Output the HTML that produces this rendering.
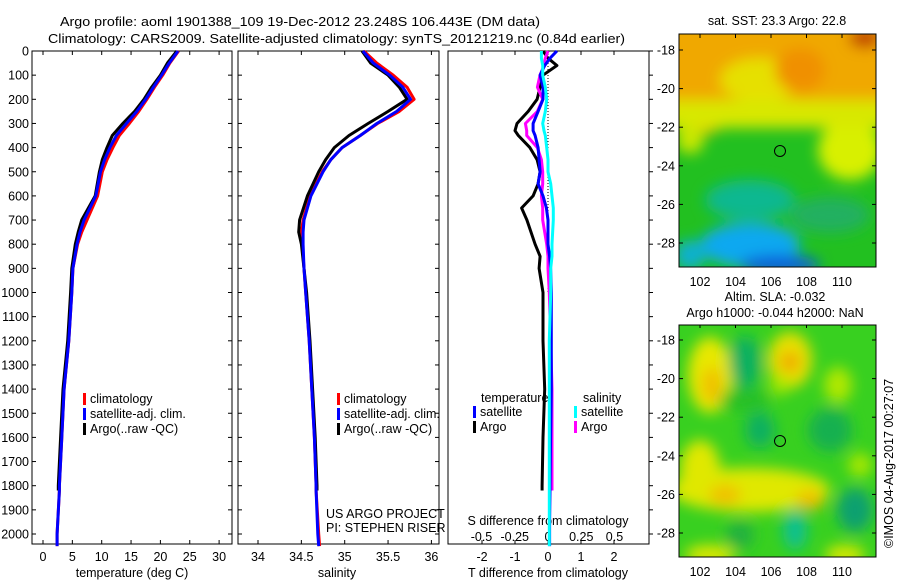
<!DOCTYPE html>
<html><head><meta charset="utf-8"><style>
body{margin:0;background:#fff;}
svg text{font-family:"Liberation Sans",sans-serif;font-size:12.5px;fill:#000;}
</style></head><body>
<svg id="fig" width="900" height="580" viewBox="0 0 900 580" xmlns="http://www.w3.org/2000/svg">
<defs>
<filter id="blur1" x="-20%" y="-20%" width="140%" height="140%"><feGaussianBlur stdDeviation="7"/></filter>
<filter id="blur2" x="-20%" y="-20%" width="140%" height="140%"><feGaussianBlur stdDeviation="7"/></filter>
<clipPath id="m1c"><rect x="679" y="34" width="197" height="233"/></clipPath>
<clipPath id="m2c"><rect x="679" y="325" width="197" height="232"/></clipPath>
</defs>
<text x="60" y="26" textLength="480" lengthAdjust="spacingAndGlyphs" font-size="14">Argo profile: aoml 1901388_109 19-Dec-2012 23.248S 106.443E (DM data)</text>
<text x="48" y="43" textLength="577" lengthAdjust="spacingAndGlyphs" font-size="14">Climatology: CARS2009. Satellite-adjusted climatology: synTS_20121219.nc (0.84d earlier)</text>

<g id="p1"></g>
<g id="p2"></g>
<g id="p3"></g>

<g>
<g clip-path="url(#m1c)">
<rect x="679" y="34" width="197" height="233" fill="#22c020"/>
<g filter="url(#blur1)">
<rect x="660" y="20" width="240" height="95" fill="#f0a800"/>
<ellipse cx="760" cy="80" rx="40" ry="22" fill="#e6e000"/>
<ellipse cx="700" cy="120" rx="25" ry="15" fill="#e8c000"/>
<ellipse cx="850" cy="150" rx="32" ry="30" fill="#d8f000"/>
<rect x="660" y="100" width="240" height="28" fill="#d8e800"/>
<ellipse cx="690" cy="140" rx="14" ry="14" fill="#c8e800"/>
<ellipse cx="865" cy="38" rx="16" ry="10" fill="#c04000"/>
<ellipse cx="800" cy="70" rx="25" ry="22" fill="#f09000"/>
<ellipse cx="750" cy="200" rx="45" ry="20" fill="#10b890"/>
<ellipse cx="830" cy="215" rx="40" ry="18" fill="#20b060"/>
<ellipse cx="750" cy="245" rx="50" ry="22" fill="#10a8f0"/>
<ellipse cx="780" cy="265" rx="40" ry="10" fill="#1060d8"/>
<ellipse cx="690" cy="255" rx="15" ry="15" fill="#10b0d0"/>
</g>
</g>
<rect x="679" y="34" width="197" height="233" fill="none" stroke="#000"/>
<circle cx="780" cy="151" r="5.5" fill="none" stroke="#000"/>
<text x="777" y="25" text-anchor="middle">sat. SST: 23.3 Argo: 22.8</text>
<g id="m1ax"></g>
</g>

<g>
<g clip-path="url(#m2c)">
<rect x="679" y="325" width="197" height="232" fill="#38d020"/>
<g filter="url(#blur2)">
<ellipse cx="710" cy="375" rx="22" ry="38" fill="#e8e800"/>
<ellipse cx="712" cy="385" rx="10" ry="18" fill="#f0c000"/>
<ellipse cx="790" cy="360" rx="22" ry="28" fill="#e8e000"/>
<ellipse cx="790" cy="362" rx="10" ry="10" fill="#f0a800"/>
<ellipse cx="745" cy="362" rx="16" ry="26" fill="#10b060"/>
<ellipse cx="745" cy="400" rx="25" ry="12" fill="#28c028"/>
<ellipse cx="780" cy="385" rx="10" ry="10" fill="#a8e800"/>
<ellipse cx="838" cy="385" rx="14" ry="18" fill="#b0e800"/>
<ellipse cx="760" cy="430" rx="15" ry="18" fill="#10b060"/>
<ellipse cx="830" cy="430" rx="22" ry="22" fill="#18b050"/>
<ellipse cx="750" cy="490" rx="80" ry="22" fill="#e0e800"/>
<ellipse cx="700" cy="470" rx="20" ry="30" fill="#e0e800"/>
<ellipse cx="725" cy="495" rx="16" ry="10" fill="#f0c000"/>
<ellipse cx="810" cy="500" rx="14" ry="10" fill="#f0c000"/>
<ellipse cx="855" cy="510" rx="18" ry="22" fill="#10a070"/>
<ellipse cx="795" cy="530" rx="12" ry="20" fill="#10c090"/>
<ellipse cx="740" cy="535" rx="14" ry="14" fill="#20b040"/>
<ellipse cx="710" cy="555" rx="25" ry="10" fill="#e0e800"/>
<ellipse cx="845" cy="555" rx="20" ry="10" fill="#d8e800"/>
<ellipse cx="860" cy="465" rx="12" ry="12" fill="#a8e800"/>
</g>
</g>
<rect x="679" y="325" width="197" height="232" fill="none" stroke="#000"/>
<circle cx="780" cy="441" r="5.5" fill="none" stroke="#000"/>
<text x="775" y="301" text-anchor="middle">Altim. SLA: -0.032</text>
<text x="775" y="317" text-anchor="middle">Argo h1000: -0.044 h2000: NaN</text>
<g id="m2ax"></g>
</g>
<text transform="translate(893,548) rotate(-90)" font-size="12.5">©IMOS 04-Aug-2017 00:27:07</text>
</svg>
<script>
const depths=[0,50,100,150,200,250,300,350,400,450,500,600,700,750,800,900,1000,1200,1400,1600,1800,1820,2000,2050];
const tempClim=[23.1,21.6,20.4,19,17.7,16.3,14.7,13,11.9,10.9,10.1,9.3,7.5,6.6,5.9,5.1,4.9,4.4,3.6,3.2,2.8,2.8,2.4,2.4];
const tempSat=[23,21.5,20.2,18.8,17.5,16,14.2,12.5,11.4,10.5,9.8,9,7,6.3,5.8,5.1,4.9,4.4,3.6,3.2,2.8,2.8,2.4,2.4];
const tempArgo=[22.8,21.2,20,18.5,17.2,15.6,13.6,11.8,10.9,10.1,9.6,8.9,6.6,6,5.5,4.9,4.7,4.2,3.4,3,2.6,2.6,null,null];
const salClim=[35.22,35.37,35.56,35.72,35.8,35.63,35.38,35.18,34.97,34.84,34.74,34.6,34.52,34.5,34.51,34.53,34.55,34.59,34.62,34.65,34.67,34.67,34.7,34.71];
const salSat=[35.21,35.33,35.52,35.67,35.76,35.6,35.37,35.18,34.97,34.84,34.75,34.61,34.53,34.52,34.52,34.53,34.55,34.59,34.62,34.65,34.67,34.67,34.69,34.7];
const salArgo=[35.2,35.3,35.5,35.63,35.72,35.5,35.27,35.05,34.88,34.78,34.7,34.57,34.48,34.47,34.5,34.53,34.56,34.6,34.63,34.66,34.68,34.68,null,null];
const diffDepths=[0,30,60,100,150,200,250,300,330,350,400,450,500,550,600,650,700,800,850,900,1000,1200,1400,1600,1800,1820,1950,2050];
const dTArgo=[-0.15,0,0.27,-0.15,-0.24,-0.33,-0.6,-0.94,-1.0,-0.9,-0.55,-0.33,-0.24,-0.3,-0.45,-0.8,-0.64,-0.39,-0.24,-0.27,-0.15,-0.15,-0.1,-0.15,-0.18,-0.18,null,null];
const dTSat=[0.27,0.06,-0.1,-0.24,-0.15,-0.15,-0.3,-0.45,-0.45,-0.39,-0.3,-0.27,-0.24,-0.3,-0.15,-0.05,0,0,0.05,0.08,0.1,0.1,0.1,0.08,0.06,0.06,0.05,0.05];
const dSArgo=[0,-0.02,-0.03,-0.06,-0.08,-0.04,-0.08,-0.17,-0.16,-0.16,-0.08,-0.05,-0.04,-0.04,-0.05,-0.04,-0.04,-0.01,0,0,0.01,0.02,0.03,0.03,0.03,0.03,null,null];
const dSSat=[-0.05,-0.05,-0.04,-0.04,-0.02,-0.01,-0.02,-0.04,-0.03,-0.02,-0.01,0,0,0.02,0.03,0.04,0.04,0.03,0.03,0.02,0.02,0.01,0.01,0.01,0.01,0.01,0.01,0.01];
const depthTicks=[0,100,200,300,400,500,600,700,800,900,1000,1100,1200,1300,1400,1500,1600,1700,1800,1900,2000];
const tempTicks=[0,5,10,15,20,25,30];
const salTicks=[34,34.5,35,35.5,36];
const dTTicks=[-2,-1,0,1,2];
const dSTicks=[-0.5,-0.25,0,0.25,0.5];
const latTicks=[-18,-20,-22,-24,-26,-28];
const lonTicks=[102,104,106,108,110];

const NS='http://www.w3.org/2000/svg';
function mk(tag,attrs,parent,txt){const e=document.createElementNS(NS,tag);for(const k in attrs)e.setAttribute(k,attrs[k]);if(txt!==undefined)e.textContent=txt;parent.appendChild(e);return e;}
const top0=51, bot=544, ky=0.2415;
function yD(d){return top0+d*ky;}
const xT=v=>43+v*5.87;
const xS=v=>258+(v-34)*86.7;
const xdT=v=>548+v*33;
const xdS=v=>548+v*133;

function frame(g,x0,x1){
  const r=mk('rect',{x:x0,y:top0,width:x1-x0,height:bot-top0,fill:'none',stroke:'#000'},g);
  
  
  depthTicks.forEach(d=>{
    mk('line',{x1:x0,x2:x0+4,y1:yD(d),y2:yD(d),stroke:'#000'},g);
    mk('line',{x1:x1,x2:x1-4,y1:yD(d),y2:yD(d),stroke:'#000'},g);
  });
}
function series(g,xs,vals,ds,fn,color,name,w){
  let pts=[];
  for(let i=0;i<ds.length;i++){if(vals[i]===null)continue;pts.push(fn(vals[i]).toFixed(1)+','+yD(ds[i]).toFixed(1));}
  const p=mk('polyline',{points:pts.join(' '),fill:'none',stroke:color,'stroke-width':w||3,'stroke-linejoin':'round'},g);
  
  
}
function legend(g,x,y,items){
  items.forEach((it,i)=>{
    const m=mk('rect',{x:x,y:y+i*15-10,width:3,height:12,fill:it[0]},g);
    
    
    const t=mk('text',{x:x+7,y:y+i*15},g,it[1]);
    
    
  });
}
// Panel 1
const p1=document.getElementById('p1');
frame(p1,32,232);
depthTicks.forEach(d=>{const t=mk('text',{x:29,y:yD(d)+4.5,'text-anchor':'end'},p1,String(d));});
tempTicks.forEach(v=>{mk('line',{x1:xT(v),x2:xT(v),y1:bot,y2:bot-4,stroke:'#000'},p1);mk('line',{x1:xT(v),x2:xT(v),y1:top0,y2:top0+4,stroke:'#000'},p1);const t=mk('text',{x:xT(v),y:561,'text-anchor':'middle'},p1,String(v));});
{const t=mk('text',{x:132,y:577,'text-anchor':'middle'},p1,'temperature (deg C)');}
series(p1,null,tempClim,depths,xT,'#f00','temperature-climatology-line');
series(p1,null,tempArgo,depths,xT,'#000','temperature-argo-line');
series(p1,null,tempSat,depths,xT,'#00f','temperature-satellite-line');
legend(p1,83,403,[['#f00','climatology'],['#00f','satellite-adj. clim.'],['#000','Argo(..raw -QC)']]);
// Panel 2
const p2=document.getElementById('p2');
frame(p2,238,439);
salTicks.forEach(v=>{mk('line',{x1:xS(v),x2:xS(v),y1:bot,y2:bot-4,stroke:'#000'},p2);mk('line',{x1:xS(v),x2:xS(v),y1:top0,y2:top0+4,stroke:'#000'},p2);const t=mk('text',{x:xS(v),y:561,'text-anchor':'middle'},p2,String(v));});
{const t=mk('text',{x:337,y:577,'text-anchor':'middle'},p2,'salinity');}
series(p2,null,salClim,depths,xS,'#f00','salinity-climatology-line');
series(p2,null,salArgo,depths,xS,'#000','salinity-argo-line');
series(p2,null,salSat,depths,xS,'#00f','salinity-satellite-line');
legend(p2,337,403,[['#f00','climatology'],['#00f','satellite-adj. clim.'],['#000','Argo(..raw -QC)']]);
{const t=mk('text',{x:326,y:518},p2,'US ARGO PROJECT');
 const t2=mk('text',{x:326,y:532},p2,'PI: STEPHEN RISER');}
// Panel 3
const p3=document.getElementById('p3');
{const r=mk('rect',{x:448,y:top0,width:201,height:bot-top0,fill:'none',stroke:'#000'},p3);}
depthTicks.forEach(d=>{mk('line',{x1:649,x2:653,y1:yD(d),y2:yD(d),stroke:'#000'},p3);});
dTTicks.forEach(v=>{mk('line',{x1:xdT(v),x2:xdT(v),y1:top0,y2:top0+4,stroke:'#000'},p3);mk('line',{x1:xdT(v),x2:xdT(v),y1:bot,y2:bot-4,stroke:'#000'},p3);const t=mk('text',{x:xdT(v),y:561,'text-anchor':'middle'},p3,String(v));});
dSTicks.forEach(v=>{const t=mk('text',{x:xdS(v),y:541,'text-anchor':'middle'},p3,String(v));});
{const t=mk('text',{x:548,y:525,'text-anchor':'middle'},p3,'S difference from climatology');
 const t2=mk('text',{x:548,y:577,'text-anchor':'middle'},p3,'T difference from climatology');}
{const l=mk('line',{x1:548,x2:548,y1:top0,y2:yD(1000),stroke:'#000','stroke-dasharray':'1,2'},p3);}
series(p3,null,dTArgo,diffDepths,xdT,'#000','t-diff-argo-line');
series(p3,null,dSArgo,diffDepths,xdS,'#f0f','s-diff-argo-line');
series(p3,null,dTSat,diffDepths,xdT,'#00f','t-diff-satellite-line');
series(p3,null,dSSat,diffDepths,xdS,'#0ff','s-diff-satellite-line');
{const t=mk('text',{x:481,y:402},p3,'temperature');
 const t2=mk('text',{x:583,y:402},p3,'salinity');}
legend(p3,473,416,[['#00f','satellite'],['#000','Argo']]);
legend(p3,574,416,[['#0ff','satellite'],['#f0f','Argo']]);
// map axes
function mapAx(id,off,lblY){
  const g=document.getElementById(id);
  latTicks.forEach(v=>{const y=50+(-18-v)*19.3+off;mk('line',{x1:679,x2:683,y1:y,y2:y,stroke:'#000'},g);mk('line',{x1:876,x2:872,y1:y,y2:y,stroke:'#000'},g);const t=mk('text',{x:675,y:y+4.5,'text-anchor':'end'},g,String(v));});
  lonTicks.forEach(v=>{const x=700+(v-102)*17.75;mk('line',{x1:x,x2:x,y1:34+off+(off?1:0),y2:38+off,stroke:'#000'},g);const t=mk('text',{x:x,y:lblY,'text-anchor':'middle'},g,String(v));});
}
mapAx('m1ax',0,286);
mapAx('m2ax',290,576);
</script>
</body></html>
